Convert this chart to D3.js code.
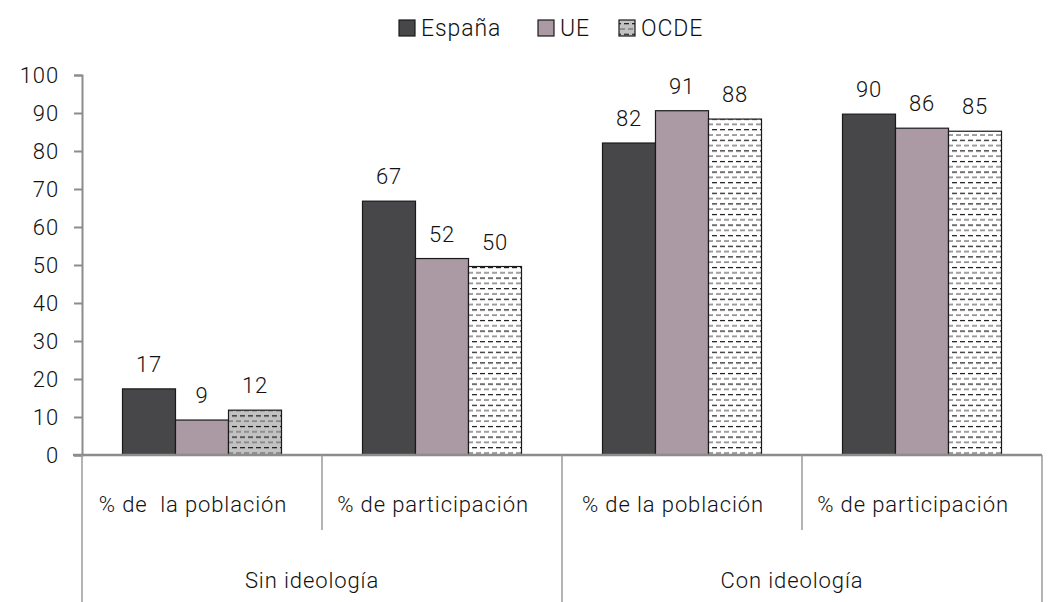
<!DOCTYPE html>
<html>
<head>
<meta charset="utf-8">
<script src="https://cdn.jsdelivr.net/npm/d3@7/dist/d3.min.js"></script>
<style>
  html, body { margin: 0; padding: 0; background: #fff; }
  svg { display: block; }
  text { font-family: Roboto, "Liberation Sans", sans-serif; font-weight: 300; fill: #111; }
</style>
</head>
<body>
<svg id="chart" width="1048" height="602"></svg>
<script>
// ---- data ----
const groups = ["Sin ideología", "Con ideología"];
const categories = ["% de  la población", "% de participación", "% de la población", "% de participación"];
const categoryGroup = [0, 0, 1, 1];
const series = ["España", "UE", "OCDE"];
const espana = [17.4, 66.8, 82.1, 89.7];
const ue = [9.2, 51.7, 90.6, 86.0];
const ocde = [11.8, 49.6, 88.4, 85.2];
const yTicks = [0, 10, 20, 30, 40, 50, 60, 70, 80, 90, 100];

const values = [espana, ue, ocde];

const svg = d3.select("#chart");
const mLeft = 82, mRight = 1042, mTop = 75, mBottom = 455;
const fontSize = "22px", spacing = "0.9px";

// patterns
const defs = svg.append("defs");
function dashPattern(id, bg) {
  const p = defs.append("pattern").attr("id", id).attr("patternUnits", "userSpaceOnUse")
    .attr("width", 8).attr("height", 10.6);
  p.append("rect").attr("width", 8).attr("height", 10.6).attr("fill", bg);
  p.append("line").attr("x1", 0).attr("x2", 5).attr("y1", 2.5).attr("y2", 2.5)
    .attr("stroke", "#111").attr("stroke-width", 1.2);
  p.append("line").attr("x1", 4).attr("x2", 9).attr("y1", 7.8).attr("y2", 7.8)
    .attr("stroke", "#777").attr("stroke-width", 1.4);
  p.append("line").attr("x1", -4).attr("x2", 1).attr("y1", 7.8).attr("y2", 7.8)
    .attr("stroke", "#777").attr("stroke-width", 1.4);
}
dashPattern("dashWhite", "#fff");
dashPattern("dashGray", "#c2c2c2");

const fills = ["#474749", "#ab99a3", "url(#dashWhite)"];

const y = d3.scaleLinear().domain([0, 100]).range([mBottom, mTop]);
const x0 = d3.scaleBand().domain(d3.range(categories.length)).range([mLeft, mRight]).padding(0);
const x1 = d3.scaleBand().domain(d3.range(series.length)).range([0, x0.bandwidth()])
  .paddingInner(0).paddingOuter(0.764);

// y axis
const yAxis = svg.append("g").attr("transform", `translate(${mLeft},0)`)
  .call(d3.axisLeft(y).tickValues(yTicks).tickSize(8).tickPadding(15).tickFormat(d3.format("d")));
yAxis.select(".domain").attr("stroke", "#8c8c8c").attr("stroke-width", 2);
yAxis.selectAll(".tick line").attr("stroke", "#8c8c8c").attr("stroke-width", 2);
yAxis.selectAll(".tick text").style("font-size", fontSize).attr("fill", "#111")
  .style("letter-spacing", spacing)
  .style("font-family", "Roboto, sans-serif").style("font-weight", 300);

// bars
const barG = svg.append("g");
categories.forEach((c, ci) => {
  series.forEach((s, si) => {
    const v = values[si][ci];
    const fill = (si === 2 && ci === 0) ? "url(#dashGray)" : fills[si];
    barG.append("rect")
      .attr("x", x0(ci) + x1(si))
      .attr("y", y(v))
      .attr("width", x1.bandwidth())
      .attr("height", y(0) - y(v))
      .attr("fill", fill)
      .attr("stroke", "#1a1a1a")
      .attr("stroke-width", 1.2);
    barG.append("text")
      .attr("x", x0(ci) + x1(si) + x1.bandwidth() / 2)
      .attr("y", y(v) - 17)
      .attr("text-anchor", "middle")
      .style("font-size", fontSize)
      .style("letter-spacing", spacing)
      .text(d3.format(".0f")(v));
  });
});

// category axis
const axisColor = "#9a9a9a";
const ax = svg.append("g");
ax.append("line").attr("x1", mLeft - 9).attr("x2", mRight).attr("y1", mBottom).attr("y2", mBottom)
  .attr("stroke", "#8c8c8c").attr("stroke-width", 2.5);
const bounds = d3.range(categories.length + 1);
bounds.forEach(i => {
  const xx = i < categories.length ? x0(i) : x0(categories.length - 1) + x0.bandwidth();
  const groupEdge = (i === 0 || i === categories.length || categoryGroup[i] !== categoryGroup[i - 1]);
  ax.append("line").attr("x1", xx).attr("x2", xx).attr("y1", mBottom)
    .attr("y2", groupEdge ? 602 : 530)
    .attr("stroke", axisColor).attr("stroke-width", 1.5);
});
categories.forEach((c, ci) => {
  ax.append("text")
    .attr("x", x0(ci) + x0.bandwidth() / 2 - 9)
    .attr("y", 512)
    .attr("text-anchor", "middle")
    .style("font-size", fontSize)
    .style("letter-spacing", spacing)
    .style("white-space", "pre")
    .attr("xml:space", "preserve")
    .text(c);
});
groups.forEach((g, gi) => {
  const idx = d3.range(categories.length).filter(i => categoryGroup[i] === gi);
  const gx0 = x0(idx[0]);
  const gx1 = x0(idx[idx.length - 1]) + x0.bandwidth();
  ax.append("text")
    .attr("x", (gx0 + gx1) / 2 - 10)
    .attr("y", 588)
    .attr("text-anchor", "middle")
    .style("font-size", fontSize)
    .style("letter-spacing", spacing)
    .text(g);
});

// legend
const legendX = [399, 538, 619];
const leg = svg.append("g");
series.forEach((s, si) => {
  const fill = si === 2 ? "url(#dashGray)" : fills[si];
  leg.append("rect").attr("x", legendX[si]).attr("y", 20).attr("width", 16).attr("height", 16)
    .attr("fill", fill).attr("stroke", "#1a1a1a").attr("stroke-width", 1.2);
  leg.append("text").attr("x", legendX[si] + 22).attr("y", 36)
    .style("font-size", "23px")
    .style("letter-spacing", spacing)
    .text(s);
});
</script>
</body>
</html>
